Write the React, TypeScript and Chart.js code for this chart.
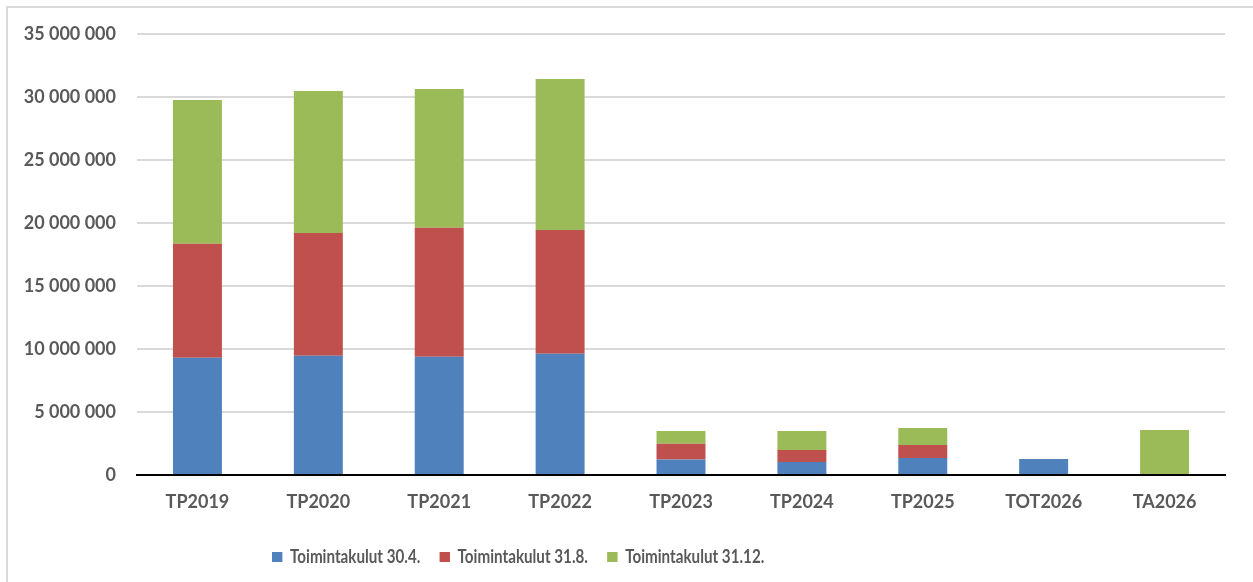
import React, { useEffect, useRef } from "react";
import { Chart, registerables } from "chart.js";

Chart.register(...registerables);

const categories = ["TP2019", "TP2020", "TP2021", "TP2022", "TP2023", "TP2024", "TP2025", "TOT2026", "TA2026"];
const seriesNames = ["Toimintakulut 30.4.", "Toimintakulut 31.8.", "Toimintakulut 31.12."];
const values304 = [9310000, 9470000, 9390000, 9630000, 1240000, 1030000, 1350000, 1270000, null];
const values318 = [9050000, 9730000, 10240000, 9810000, 1240000, 950000, 1030000, null, null];
const values3112 = [11400000, 11280000, 11000000, 11990000, 1010000, 1510000, 1350000, null, 3570000];
const yTicks = [0, 5000000, 10000000, 15000000, 20000000, 25000000, 30000000, 35000000];

const colors = ["#4f81bd", "#c0504d", "#9bbb59"];
const textColor = "#595959";
const fontFamily = "Lato, 'Open Sans', sans-serif";

// legend is drawn horizontally condensed, like the narrow face in the original
const LEGEND_SX = 0.8;
const LEGEND_LEFT = 272;
const LEGEND_CY = 557;
const LEGEND_H = 50;

function fmt(v: number): string {
  return String(Math.round(v)).replace(/\B(?=(\d{3})+(?!\d))/g, " ");
}

const condensedLegend = {
  id: "condensedLegend",
  afterInit(chart: any) {
    const legend = chart.legend;
    if (!legend || legend.__wrapped) return;
    legend.__wrapped = true;
    const origFit = legend.fit;
    legend.fit = function (this: any) {
      origFit.call(this);
      if (this.isHorizontal()) this.height = LEGEND_H;
    };
    const origDraw = legend.draw;
    legend.draw = function (this: any) {
      const hb = this.legendHitBoxes && this.legendHitBoxes[0];
      const ctx = this.ctx;
      ctx.save();
      if (hb) {
        const tx = LEGEND_LEFT - LEGEND_SX * hb.left;
        const ty = LEGEND_CY - (hb.top + hb.height / 2);
        ctx.translate(tx, ty);
        ctx.scale(LEGEND_SX, 1);
      }
      origDraw.call(this);
      ctx.restore();
    };
  },
};

export default function App() {
  const ref = useRef<HTMLCanvasElement | null>(null);
  useEffect(() => {
    if (!ref.current) return;
    const chart = new Chart(ref.current, {
      type: "bar",
      data: {
        labels: categories,
        datasets: [values304, values318, values3112].map((d, i) => ({
          label: seriesNames[i],
          data: d as any,
          backgroundColor: colors[i],
          borderWidth: 0,
          barPercentage: 0.405,
          categoryPercentage: 1,
        })),
      },
      plugins: [condensedLegend],
      options: {
        animation: false,
        responsive: false,
        maintainAspectRatio: false,
        layout: { padding: { left: 0, right: 28, top: 34, bottom: 0 } },
        plugins: {
          tooltip: { enabled: false },
          legend: {
            position: "bottom",
            labels: {
              boxWidth: 13,
              boxHeight: 10,
              padding: 24,
              color: textColor,
              font: { family: fontFamily, size: 19, weight: "bold" },
            },
          },
        },
        scales: {
          x: {
            stacked: true,
            grid: { display: false, drawTicks: false },
            border: { display: true, color: "#000000", width: 2 },
            ticks: {
              color: textColor,
              padding: 16,
              font: { family: fontFamily, size: 18, weight: "bold" },
            },
            afterFit: (s: any) => {
              s.height = 57;
            },
          },
          y: {
            stacked: true,
            min: 0,
            max: 35000000,
            afterBuildTicks: (s: any) => {
              s.ticks = yTicks.map((v) => ({ value: v }));
            },
            grid: { color: "#d9d9d9", lineWidth: 2, drawTicks: false },
            border: { display: false },
            ticks: {
              color: textColor,
              padding: 21,
              font: { family: fontFamily, size: 18, weight: "bold" },
              callback: (v: any) => fmt(Number(v)),
            },
            afterFit: (s: any) => {
              s.width = 137;
            },
          },
        },
      },
    });
    return () => chart.destroy();
  }, []);
  return (
    <>
      <div
        style={{
          position: "fixed",
          left: 6,
          top: 6,
          width: 1260,
          height: 590,
          borderLeft: "2px solid #d9d9d9",
          borderTop: "2px solid #d9d9d9",
          boxSizing: "border-box",
        }}
      />
      <canvas
        ref={ref}
        width={1253}
        height={582}
        style={{ position: "fixed", left: 0, top: 0, width: 1253, height: 582 }}
      />
    </>
  );
}
